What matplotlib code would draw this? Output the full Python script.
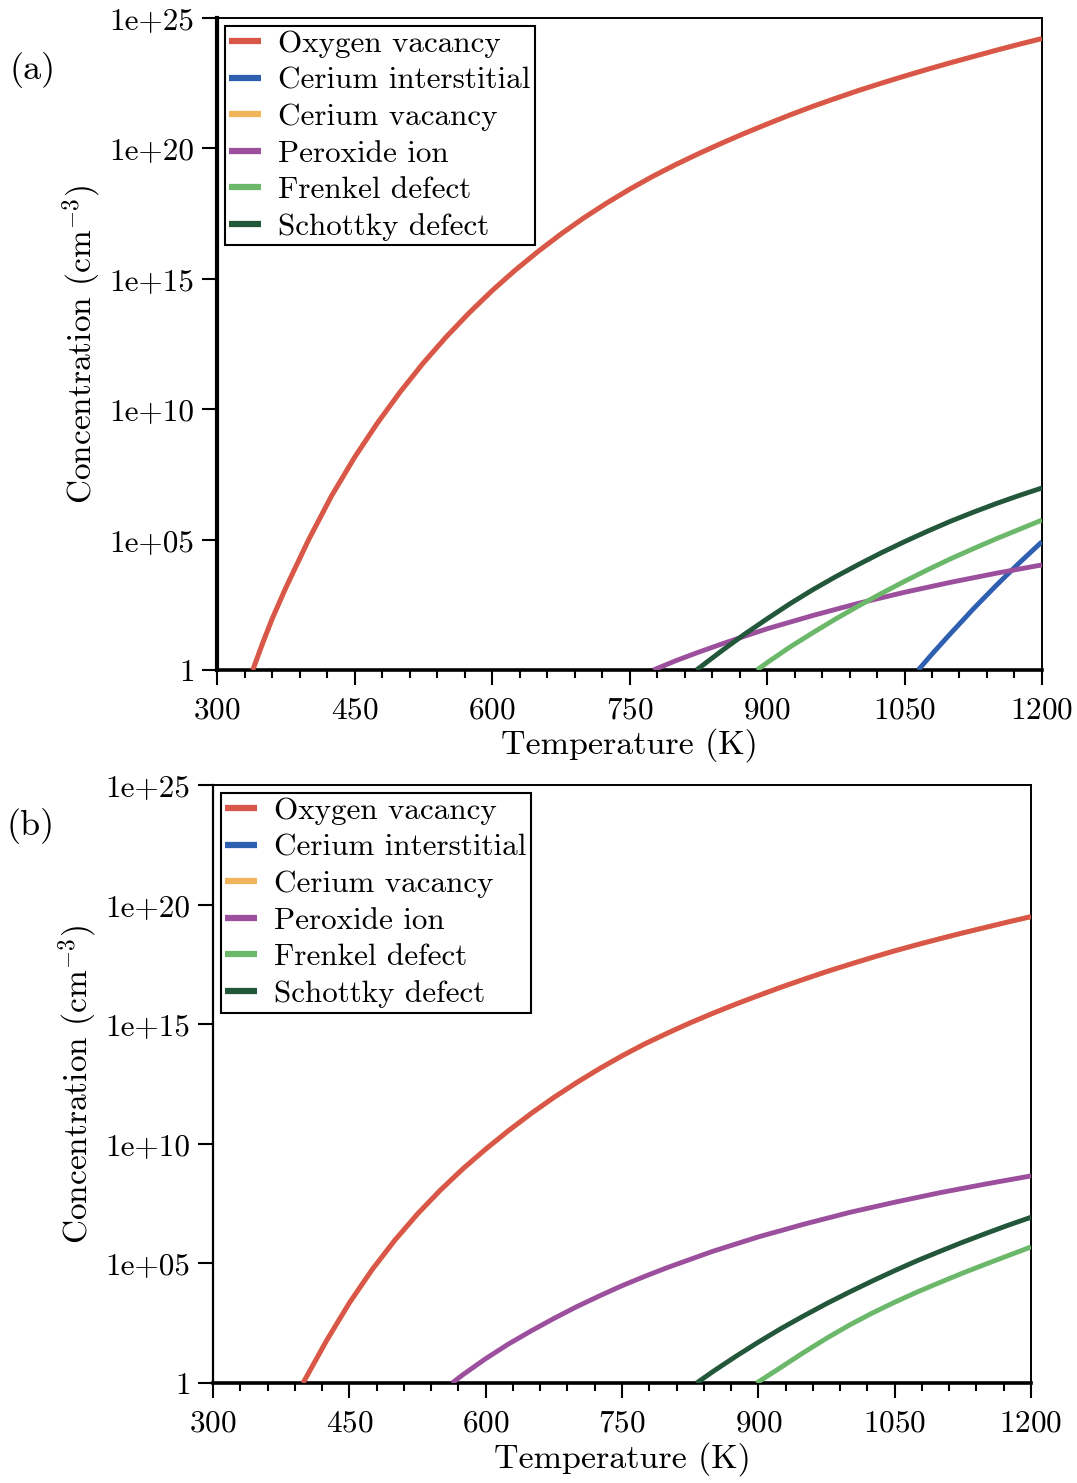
import numpy as np
import matplotlib
matplotlib.use("Agg")
import matplotlib.pyplot as plt
from matplotlib.ticker import FixedLocator, MultipleLocator, NullLocator

plt.rcParams['font.family'] = ['cmr10', 'DejaVu Serif']
plt.rcParams['mathtext.fontset'] = 'cm'
plt.rcParams['axes.formatter.use_mathtext'] = True

# log10 of concentration (cm^-3)
# ---- panel (a)
a_ov_T = [339, 350, 360, 375, 400, 425, 450, 475, 500, 525, 550, 575, 600, 625, 650, 675, 700, 725,
          750, 775, 800, 825, 850, 875, 900, 925, 950, 975, 1000, 1025, 1050, 1075, 1100, 1125,
          1150, 1175, 1200]
a_ov = [0.0, 1.05, 1.95, 3.15, 5.0, 6.68, 8.15, 9.47, 10.67, 11.77, 12.77, 13.69, 14.54, 15.32, 16.04,
        16.71, 17.33, 17.9, 18.43, 18.92, 19.37, 19.79, 20.19, 20.57, 20.93, 21.28, 21.61, 21.92,
        22.22, 22.5, 22.77, 23.03, 23.28, 23.52, 23.76, 23.99, 24.21]
a_ci_T = [1065, 1080, 1100, 1125, 1150, 1175, 1200]
a_ci = [0.0, 0.61, 1.39, 2.34, 3.24, 4.10, 4.92]
a_cv_T = a_ov_T
a_cv = [0.0, 1.05, 1.95, 3.15, 5.0, 6.68, 8.15, 9.47, 10.67, 11.77, 12.77, 13.69, 14.54, 15.32, 16.04,
        16.71, 17.33, 17.9, 18.43, 18.92, 19.37, 19.79, 20.19, 20.57, 20.93, 21.28, 21.61, 21.92,
        22.22, 22.5, 22.77, 23.03, 23.28, 23.52, 23.76, 23.99, 24.21]
a_px_T = [776, 800, 825, 850, 875, 900, 950, 1000, 1050, 1100, 1150, 1200]
a_px = [0.0, 0.35, 0.68, 0.99, 1.29, 1.58, 2.09, 2.56, 2.98, 3.36, 3.71, 4.03]
a_fr_T = [889, 900, 925, 950, 975, 1000, 1025, 1050, 1075, 1100, 1125, 1150, 1175, 1200]
a_fr = [0.0, 0.28, 0.88, 1.43, 1.96, 2.46, 2.94, 3.40, 3.84, 4.26, 4.65, 5.03, 5.39, 5.75]
a_sc_T = [823, 850, 875, 900, 925, 950, 975, 1000, 1025, 1050, 1075, 1100, 1125, 1150, 1175, 1200]
a_sc = [0.0, 0.72, 1.36, 1.96, 2.54, 3.08, 3.58, 4.05, 4.5, 4.92, 5.32, 5.7, 6.05, 6.38, 6.69, 6.98]

# ---- panel (b)
b_ov_T = [399, 425, 450, 475, 500, 525, 550, 575, 600, 625, 650, 675, 700, 725, 750, 775, 800, 825,
          850, 875, 900, 925, 950, 975, 1000, 1025, 1050, 1075, 1100, 1125, 1150, 1175, 1200]
b_ov = [0.0, 1.78, 3.35, 4.74, 5.97, 7.07, 8.06, 8.96, 9.78, 10.55, 11.27, 11.94, 12.56, 13.14,
        13.68, 14.18, 14.63, 15.06, 15.46, 15.84, 16.2, 16.55, 16.88, 17.2, 17.5, 17.79, 18.07,
        18.33, 18.58, 18.82, 19.05, 19.28, 19.5]
b_ci_T = []
b_ci = []
b_cv_T = b_ov_T
b_cv = [0.0, 1.78, 3.35, 4.74, 5.97, 7.07, 8.06, 8.96, 9.78, 10.55, 11.27, 11.94, 12.56, 13.14,
        13.68, 14.18, 14.63, 15.06, 15.46, 15.84, 16.2, 16.55, 16.88, 17.2, 17.5, 17.79, 18.07,
        18.33, 18.58, 18.82, 19.05, 19.28, 19.5]
b_px_T = [563, 575, 600, 625, 650, 675, 700, 725, 750, 775, 800, 850, 900, 950, 1000, 1050, 1100,
          1150, 1200]
b_px = [0.0, 0.35, 1.02, 1.63, 2.18, 2.7, 3.19, 3.64, 4.07, 4.46, 4.83, 5.51, 6.11, 6.64, 7.13, 7.56,
        7.96, 8.32, 8.66]
b_fr_T = [898, 925, 950, 975, 1000, 1025, 1050, 1075, 1100, 1125, 1150, 1175, 1200]
b_fr = [0.0, 0.66, 1.28, 1.87, 2.42, 2.92, 3.38, 3.81, 4.21, 4.6, 4.97, 5.33, 5.69]
b_sc_T = [832, 850, 875, 900, 925, 950, 975, 1000, 1025, 1050, 1075, 1100, 1125, 1150, 1175, 1200]
b_sc = [0.0, 0.48, 1.11, 1.71, 2.28, 2.81, 3.32, 3.80, 4.26, 4.70, 5.12, 5.51, 5.89, 6.25, 6.6, 6.93]

names = ["Oxygen vacancy", "Cerium interstitial", "Cerium vacancy",
         "Peroxide ion", "Frenkel defect", "Schottky defect"]
colors = ["#d9574a", "#2f5fb0", "#f2b45a", "#9c4f9c", "#6cb86a", "#23573a"]

ytick_vals = [1, 1e5, 1e10, 1e15, 1e20, 1e25]
ytick_labels = ["1", "1e+05", "1e+10", "1e+15", "1e+20", "1e+25"]

fig = plt.figure(figsize=(10.77, 14.83), dpi=100)
ax_a = fig.add_axes([0.2015, 0.5482, 0.766, 0.4397])
ax_b = fig.add_axes([0.1978, 0.0674, 0.7595, 0.4032])

panels = [
    (ax_a, [(a_ov_T, a_ov), (a_ci_T, a_ci), (a_cv_T, a_cv), (a_px_T, a_px), (a_fr_T, a_fr), (a_sc_T, a_sc)], 3.0),
    (ax_b, [(b_ov_T, b_ov), (b_ci_T, b_ci), (b_cv_T, b_cv), (b_px_T, b_px), (b_fr_T, b_fr), (b_sc_T, b_sc)], 1.6),
]

for ax, series, leftw in panels:
    # cerium vacancy lies under the oxygen vacancy curve, draw it first
    order = [2, 0, 1, 3, 4, 5]
    lines = {}
    for i in order:
        T, lc = series[i]
        ln, = ax.plot(T, 10.0 ** np.array(lc, dtype=float), color=colors[i], lw=3.5,
                      solid_capstyle='butt', solid_joinstyle='round',
                      zorder=3 if i != 2 else 2)
        lines[i] = ln
    handles = [lines[i] for i in range(6)]
    ax.set_yscale('log')
    ax.set_xlim(300, 1200)
    ax.set_ylim(1, 1e25)
    ax.yaxis.set_major_locator(FixedLocator(ytick_vals))
    ax.set_yticklabels(ytick_labels)
    ax.yaxis.set_minor_locator(NullLocator())
    ax.xaxis.set_major_locator(MultipleLocator(150))
    ax.xaxis.set_minor_locator(MultipleLocator(30))
    ax.tick_params(axis='both', which='major', direction='out', length=11, width=1.5,
                   labelsize=22.5, top=False, right=False)
    ax.tick_params(axis='x', which='major', pad=8)
    ax.tick_params(axis='y', which='major', pad=5)
    ax.tick_params(axis='x', which='minor', direction='out', length=6, width=1.5,
                   top=False)
    for s in ['top', 'right']:
        ax.spines[s].set_linewidth(1.4)
    ax.spines['left'].set_linewidth(leftw)
    ax.spines['bottom'].set_linewidth(2.6)
    ax.set_xlabel("Temperature (K)", fontsize=24.5, labelpad=3)
    ax.set_ylabel(r"Concentration (cm$^{\mathregular{-3}}$)", fontsize=24, labelpad=5)
    leg = ax.legend(handles, names, loc='upper left', fontsize=22.4, handlelength=1.0,
                    handletextpad=0.55, labelspacing=0.28, borderpad=0.15,
                    borderaxespad=0.25, fancybox=False, framealpha=1)
    leg.get_frame().set_edgecolor('black')
    leg.get_frame().set_linewidth(1.5)
    for lh in leg.get_lines():
        lh.set_linewidth(4.5)

fig.text(0.0306, 0.953, "(a)", fontsize=26, ha='center', va='center')
fig.text(0.028, 0.443, "(b)", fontsize=26, ha='center', va='center')

fig.savefig("out.png", dpi=100)
